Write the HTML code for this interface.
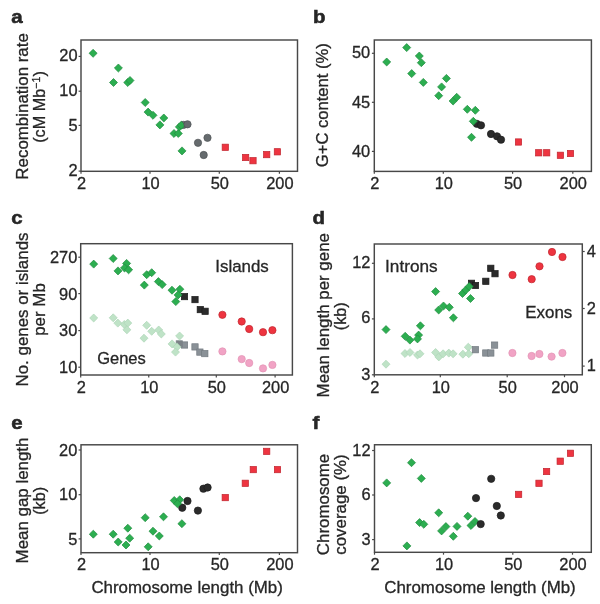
<!DOCTYPE html>
<html><head><meta charset="utf-8"><style>
html,body{margin:0;padding:0;background:#fff;width:600px;height:604px;overflow:hidden}
svg{display:block;will-change:transform}
text{font-family:"Liberation Sans",sans-serif;fill:#262626;stroke:#262626;stroke-width:0.3px}
</style></head><body>
<svg width="600" height="604" viewBox="0 0 600 604">
<rect x="81" y="40" width="216.50" height="131.30" fill="none" stroke="#484848" stroke-width="1.45"/>
<line x1="81.00" y1="171.3" x2="81.00" y2="173.70" stroke="#484848" stroke-width="1.2"/>
<text x="81.50" y="188.70" font-size="16.4" text-anchor="middle">2</text>
<line x1="150.00" y1="171.3" x2="150.00" y2="173.70" stroke="#484848" stroke-width="1.2"/>
<text x="150.50" y="188.70" font-size="16.4" text-anchor="middle">10</text>
<line x1="219.30" y1="171.3" x2="219.30" y2="173.70" stroke="#484848" stroke-width="1.2"/>
<text x="219.80" y="188.70" font-size="16.4" text-anchor="middle">50</text>
<line x1="279.40" y1="171.3" x2="279.40" y2="173.70" stroke="#484848" stroke-width="1.2"/>
<text x="279.90" y="188.70" font-size="16.4" text-anchor="middle">200</text>
<line x1="78.60" y1="56.40" x2="81" y2="56.40" stroke="#484848" stroke-width="1.2"/>
<text x="77.60" y="60.50" font-size="16.4" text-anchor="end">20</text>
<line x1="78.60" y1="91.20" x2="81" y2="91.20" stroke="#484848" stroke-width="1.2"/>
<text x="77.60" y="96.40" font-size="16.4" text-anchor="end">10</text>
<line x1="78.60" y1="125.40" x2="81" y2="125.40" stroke="#484848" stroke-width="1.2"/>
<text x="77.60" y="130.90" font-size="16.4" text-anchor="end">5</text>
<line x1="78.60" y1="171.10" x2="81" y2="171.10" stroke="#484848" stroke-width="1.2"/>
<text x="77.60" y="175.60" font-size="16.4" text-anchor="end">2</text>
<circle cx="183.30" cy="124.90" r="3.65" fill="#666b6e" stroke="#4d5154" stroke-width="0.7"/>
<path d="M93.10 49.29L97.11 53.30L93.10 57.31L89.09 53.30Z" fill="#2cae50" stroke="#1f8b3f" stroke-width="0.7"/>
<path d="M118.40 63.99L122.41 68.00L118.40 72.01L114.39 68.00Z" fill="#2cae50" stroke="#1f8b3f" stroke-width="0.7"/>
<path d="M113.50 78.49L117.51 82.50L113.50 86.51L109.49 82.50Z" fill="#2cae50" stroke="#1f8b3f" stroke-width="0.7"/>
<path d="M127.75 78.49L131.76 82.50L127.75 86.51L123.74 82.50Z" fill="#2cae50" stroke="#1f8b3f" stroke-width="0.7"/>
<path d="M130.00 76.49L134.01 80.50L130.00 84.51L125.99 80.50Z" fill="#2cae50" stroke="#1f8b3f" stroke-width="0.7"/>
<path d="M145.20 98.49L149.21 102.50L145.20 106.51L141.19 102.50Z" fill="#2cae50" stroke="#1f8b3f" stroke-width="0.7"/>
<path d="M148.10 108.09L152.11 112.10L148.10 116.11L144.09 112.10Z" fill="#2cae50" stroke="#1f8b3f" stroke-width="0.7"/>
<path d="M153.00 111.29L157.01 115.30L153.00 119.31L148.99 115.30Z" fill="#2cae50" stroke="#1f8b3f" stroke-width="0.7"/>
<path d="M163.80 113.99L167.81 118.00L163.80 122.01L159.79 118.00Z" fill="#2cae50" stroke="#1f8b3f" stroke-width="0.7"/>
<path d="M159.90 120.89L163.91 124.90L159.90 128.91L155.89 124.90Z" fill="#2cae50" stroke="#1f8b3f" stroke-width="0.7"/>
<path d="M174.00 129.49L178.01 133.50L174.00 137.51L169.99 133.50Z" fill="#2cae50" stroke="#1f8b3f" stroke-width="0.7"/>
<path d="M178.30 129.49L182.31 133.50L178.30 137.51L174.29 133.50Z" fill="#2cae50" stroke="#1f8b3f" stroke-width="0.7"/>
<path d="M179.40 122.89L183.41 126.90L179.40 130.91L175.39 126.90Z" fill="#2cae50" stroke="#1f8b3f" stroke-width="0.7"/>
<path d="M181.30 121.19L185.31 125.20L181.30 129.21L177.29 125.20Z" fill="#2cae50" stroke="#1f8b3f" stroke-width="0.7"/>
<path d="M182.00 146.89L186.01 150.90L182.00 154.91L177.99 150.90Z" fill="#2cae50" stroke="#1f8b3f" stroke-width="0.7"/>
<circle cx="187.50" cy="124.30" r="3.65" fill="#666b6e" stroke="#4d5154" stroke-width="0.7"/>
<circle cx="198.00" cy="142.80" r="3.65" fill="#666b6e" stroke="#4d5154" stroke-width="0.7"/>
<circle cx="207.50" cy="137.80" r="3.65" fill="#666b6e" stroke="#4d5154" stroke-width="0.7"/>
<circle cx="203.70" cy="155.00" r="3.65" fill="#666b6e" stroke="#4d5154" stroke-width="0.7"/>
<rect x="222.15" y="144.15" width="6.30" height="6.30" fill="#ee3440" stroke="#c0262f" stroke-width="0.7"/>
<rect x="242.45" y="154.35" width="6.30" height="6.30" fill="#ee3440" stroke="#c0262f" stroke-width="0.7"/>
<rect x="249.85" y="157.55" width="6.30" height="6.30" fill="#ee3440" stroke="#c0262f" stroke-width="0.7"/>
<rect x="263.55" y="151.45" width="6.30" height="6.30" fill="#ee3440" stroke="#c0262f" stroke-width="0.7"/>
<rect x="274.25" y="148.65" width="6.30" height="6.30" fill="#ee3440" stroke="#c0262f" stroke-width="0.7"/>
<text transform="translate(27.60 106.40) rotate(-90)" font-size="16.9" text-anchor="middle">Recombination rate</text>
<text transform="translate(44.9 142.8) rotate(-90)" font-size="16.9" text-anchor="start" textLength="71.6" lengthAdjust="spacingAndGlyphs">(cM Mb<tspan font-size="11" dy="-5.2">−1</tspan><tspan dy="5.2">)</tspan></text>
<rect x="374.3" y="40" width="217.10" height="131.40" fill="none" stroke="#484848" stroke-width="1.45"/>
<line x1="374.30" y1="171.4" x2="374.30" y2="173.80" stroke="#484848" stroke-width="1.2"/>
<text x="374.80" y="188.70" font-size="16.4" text-anchor="middle">2</text>
<line x1="443.30" y1="171.4" x2="443.30" y2="173.80" stroke="#484848" stroke-width="1.2"/>
<text x="443.80" y="188.70" font-size="16.4" text-anchor="middle">10</text>
<line x1="512.60" y1="171.4" x2="512.60" y2="173.80" stroke="#484848" stroke-width="1.2"/>
<text x="513.10" y="188.70" font-size="16.4" text-anchor="middle">50</text>
<line x1="572.80" y1="171.4" x2="572.80" y2="173.80" stroke="#484848" stroke-width="1.2"/>
<text x="573.30" y="188.70" font-size="16.4" text-anchor="middle">200</text>
<line x1="371.90" y1="53.30" x2="374.3" y2="53.30" stroke="#484848" stroke-width="1.2"/>
<text x="370.20" y="58.40" font-size="16.4" text-anchor="end">50</text>
<line x1="371.90" y1="102.30" x2="374.3" y2="102.30" stroke="#484848" stroke-width="1.2"/>
<text x="370.20" y="107.80" font-size="16.4" text-anchor="end">45</text>
<line x1="371.90" y1="151.40" x2="374.3" y2="151.40" stroke="#484848" stroke-width="1.2"/>
<text x="370.20" y="157.00" font-size="16.4" text-anchor="end">40</text>
<path d="M386.70 57.99L390.71 62.00L386.70 66.01L382.69 62.00Z" fill="#2cae50" stroke="#1f8b3f" stroke-width="0.7"/>
<path d="M406.70 43.59L410.71 47.60L406.70 51.61L402.69 47.60Z" fill="#2cae50" stroke="#1f8b3f" stroke-width="0.7"/>
<path d="M419.30 51.99L423.31 56.00L419.30 60.01L415.29 56.00Z" fill="#2cae50" stroke="#1f8b3f" stroke-width="0.7"/>
<path d="M421.30 58.69L425.31 62.70L421.30 66.71L417.29 62.70Z" fill="#2cae50" stroke="#1f8b3f" stroke-width="0.7"/>
<path d="M411.70 69.59L415.71 73.60L411.70 77.61L407.69 73.60Z" fill="#2cae50" stroke="#1f8b3f" stroke-width="0.7"/>
<path d="M423.30 78.39L427.31 82.40L423.30 86.41L419.29 82.40Z" fill="#2cae50" stroke="#1f8b3f" stroke-width="0.7"/>
<path d="M446.40 74.39L450.41 78.40L446.40 82.41L442.39 78.40Z" fill="#2cae50" stroke="#1f8b3f" stroke-width="0.7"/>
<path d="M441.60 82.89L445.61 86.90L441.60 90.91L437.59 86.90Z" fill="#2cae50" stroke="#1f8b3f" stroke-width="0.7"/>
<path d="M438.70 91.69L442.71 95.70L438.70 99.71L434.69 95.70Z" fill="#2cae50" stroke="#1f8b3f" stroke-width="0.7"/>
<path d="M453.10 96.99L457.11 101.00L453.10 105.01L449.09 101.00Z" fill="#2cae50" stroke="#1f8b3f" stroke-width="0.7"/>
<path d="M456.70 93.29L460.71 97.30L456.70 101.31L452.69 97.30Z" fill="#2cae50" stroke="#1f8b3f" stroke-width="0.7"/>
<path d="M467.30 105.29L471.31 109.30L467.30 113.31L463.29 109.30Z" fill="#2cae50" stroke="#1f8b3f" stroke-width="0.7"/>
<path d="M475.30 106.29L479.31 110.30L475.30 114.31L471.29 110.30Z" fill="#2cae50" stroke="#1f8b3f" stroke-width="0.7"/>
<path d="M471.50 133.29L475.51 137.30L471.50 141.31L467.49 137.30Z" fill="#2cae50" stroke="#1f8b3f" stroke-width="0.7"/>
<circle cx="476.80" cy="123.80" r="3.65" fill="#2b2b2b" stroke="#1c1c1c" stroke-width="0.7"/>
<circle cx="481.00" cy="125.30" r="3.65" fill="#2b2b2b" stroke="#1c1c1c" stroke-width="0.7"/>
<circle cx="491.00" cy="134.00" r="3.65" fill="#2b2b2b" stroke="#1c1c1c" stroke-width="0.7"/>
<circle cx="497.00" cy="136.30" r="3.65" fill="#2b2b2b" stroke="#1c1c1c" stroke-width="0.7"/>
<circle cx="501.00" cy="139.70" r="3.65" fill="#2b2b2b" stroke="#1c1c1c" stroke-width="0.7"/>
<path d="M473.30 117.29L477.31 121.30L473.30 125.31L469.29 121.30Z" fill="#2cae50" stroke="#1f8b3f" stroke-width="0.7"/>
<rect x="515.35" y="138.85" width="6.30" height="6.30" fill="#ee3440" stroke="#c0262f" stroke-width="0.7"/>
<rect x="535.55" y="149.65" width="6.30" height="6.30" fill="#ee3440" stroke="#c0262f" stroke-width="0.7"/>
<rect x="543.55" y="149.65" width="6.30" height="6.30" fill="#ee3440" stroke="#c0262f" stroke-width="0.7"/>
<rect x="557.25" y="152.15" width="6.30" height="6.30" fill="#ee3440" stroke="#c0262f" stroke-width="0.7"/>
<rect x="567.35" y="150.35" width="6.30" height="6.30" fill="#ee3440" stroke="#c0262f" stroke-width="0.7"/>
<text transform="translate(328.30 105.20) rotate(-90)" font-size="16.6" text-anchor="middle">G+C content (%)</text>
<rect x="80.7" y="243.7" width="211.70" height="131.30" fill="none" stroke="#484848" stroke-width="1.45"/>
<line x1="80.70" y1="375" x2="80.70" y2="377.40" stroke="#484848" stroke-width="1.2"/>
<text x="81.20" y="392.70" font-size="16.4" text-anchor="middle">2</text>
<line x1="148.75" y1="375" x2="148.75" y2="377.40" stroke="#484848" stroke-width="1.2"/>
<text x="149.25" y="392.70" font-size="16.4" text-anchor="middle">10</text>
<line x1="216.30" y1="375" x2="216.30" y2="377.40" stroke="#484848" stroke-width="1.2"/>
<text x="216.80" y="392.70" font-size="16.4" text-anchor="middle">50</text>
<line x1="275.10" y1="375" x2="275.10" y2="377.40" stroke="#484848" stroke-width="1.2"/>
<text x="275.60" y="392.70" font-size="16.4" text-anchor="middle">200</text>
<line x1="78.30" y1="257.20" x2="80.7" y2="257.20" stroke="#484848" stroke-width="1.2"/>
<text x="77.30" y="262.90" font-size="16.4" text-anchor="end">270</text>
<line x1="78.30" y1="293.60" x2="80.7" y2="293.60" stroke="#484848" stroke-width="1.2"/>
<text x="77.30" y="300.10" font-size="16.4" text-anchor="end">90</text>
<line x1="78.30" y1="330.60" x2="80.7" y2="330.60" stroke="#484848" stroke-width="1.2"/>
<text x="77.30" y="336.40" font-size="16.4" text-anchor="end">30</text>
<line x1="78.30" y1="367.20" x2="80.7" y2="367.20" stroke="#484848" stroke-width="1.2"/>
<text x="77.30" y="373.00" font-size="16.4" text-anchor="end">10</text>
<rect x="181.35" y="341.85" width="6.30" height="6.30" fill="#8a9197" stroke="#737a80" stroke-width="0.7"/>
<rect x="191.85" y="343.75" width="6.30" height="6.30" fill="#8a9197" stroke="#737a80" stroke-width="0.7"/>
<rect x="196.75" y="348.95" width="6.30" height="6.30" fill="#8a9197" stroke="#737a80" stroke-width="0.7"/>
<rect x="201.65" y="350.45" width="6.30" height="6.30" fill="#8a9197" stroke="#737a80" stroke-width="0.7"/>
<rect x="176.15" y="340.75" width="6.30" height="6.30" fill="#7a8186" stroke="#7a8186" stroke-width="0.7"/>
<path d="M93.70 313.99L97.71 318.00L93.70 322.01L89.69 318.00Z" fill="#bfe3c7" stroke="#aed6b8" stroke-width="0.7"/>
<path d="M113.20 313.79L117.21 317.80L113.20 321.81L109.19 317.80Z" fill="#bfe3c7" stroke="#aed6b8" stroke-width="0.7"/>
<path d="M117.80 319.09L121.81 323.10L117.80 327.11L113.79 323.10Z" fill="#bfe3c7" stroke="#aed6b8" stroke-width="0.7"/>
<path d="M124.30 320.49L128.31 324.50L124.30 328.51L120.29 324.50Z" fill="#bfe3c7" stroke="#aed6b8" stroke-width="0.7"/>
<path d="M127.80 319.09L131.81 323.10L127.80 327.11L123.79 323.10Z" fill="#bfe3c7" stroke="#aed6b8" stroke-width="0.7"/>
<path d="M126.90 325.79L130.91 329.80L126.90 333.81L122.89 329.80Z" fill="#bfe3c7" stroke="#aed6b8" stroke-width="0.7"/>
<path d="M146.70 321.29L150.71 325.30L146.70 329.31L142.69 325.30Z" fill="#bfe3c7" stroke="#aed6b8" stroke-width="0.7"/>
<path d="M151.70 327.29L155.71 331.30L151.70 335.31L147.69 331.30Z" fill="#bfe3c7" stroke="#aed6b8" stroke-width="0.7"/>
<path d="M158.70 325.99L162.71 330.00L158.70 334.01L154.69 330.00Z" fill="#bfe3c7" stroke="#aed6b8" stroke-width="0.7"/>
<path d="M161.30 329.99L165.31 334.00L161.30 338.01L157.29 334.00Z" fill="#bfe3c7" stroke="#aed6b8" stroke-width="0.7"/>
<path d="M144.00 334.19L148.01 338.20L144.00 342.21L139.99 338.20Z" fill="#bfe3c7" stroke="#aed6b8" stroke-width="0.7"/>
<path d="M179.60 331.99L183.61 336.00L179.60 340.01L175.59 336.00Z" fill="#bfe3c7" stroke="#aed6b8" stroke-width="0.7"/>
<path d="M172.10 339.89L176.11 343.90L172.10 347.91L168.09 343.90Z" fill="#bfe3c7" stroke="#aed6b8" stroke-width="0.7"/>
<path d="M177.00 342.89L181.01 346.90L177.00 350.91L172.99 346.90Z" fill="#bfe3c7" stroke="#aed6b8" stroke-width="0.7"/>
<path d="M175.50 348.09L179.51 352.10L175.50 356.11L171.49 352.10Z" fill="#bfe3c7" stroke="#aed6b8" stroke-width="0.7"/>
<circle cx="222.40" cy="351.40" r="3.65" fill="#f1a3c5" stroke="#e393b5" stroke-width="0.7"/>
<circle cx="241.70" cy="359.10" r="3.65" fill="#f1a3c5" stroke="#e393b5" stroke-width="0.7"/>
<circle cx="249.20" cy="363.00" r="3.65" fill="#f1a3c5" stroke="#e393b5" stroke-width="0.7"/>
<circle cx="263.00" cy="368.40" r="3.65" fill="#f1a3c5" stroke="#e393b5" stroke-width="0.7"/>
<circle cx="272.40" cy="364.90" r="3.65" fill="#f1a3c5" stroke="#e393b5" stroke-width="0.7"/>
<rect x="181.35" y="293.45" width="6.30" height="6.30" fill="#2b2b2b" stroke="#1c1c1c" stroke-width="0.7"/>
<rect x="191.85" y="296.45" width="6.30" height="6.30" fill="#2b2b2b" stroke="#1c1c1c" stroke-width="0.7"/>
<rect x="197.15" y="306.45" width="6.30" height="6.30" fill="#2b2b2b" stroke="#1c1c1c" stroke-width="0.7"/>
<rect x="201.95" y="308.15" width="6.30" height="6.30" fill="#2b2b2b" stroke="#1c1c1c" stroke-width="0.7"/>
<path d="M93.70 260.09L97.71 264.10L93.70 268.11L89.69 264.10Z" fill="#2cae50" stroke="#1f8b3f" stroke-width="0.7"/>
<path d="M113.20 254.49L117.21 258.50L113.20 262.51L109.19 258.50Z" fill="#2cae50" stroke="#1f8b3f" stroke-width="0.7"/>
<path d="M118.00 266.89L122.01 270.90L118.00 274.91L113.99 270.90Z" fill="#2cae50" stroke="#1f8b3f" stroke-width="0.7"/>
<path d="M126.60 259.39L130.61 263.40L126.60 267.41L122.59 263.40Z" fill="#2cae50" stroke="#1f8b3f" stroke-width="0.7"/>
<path d="M124.50 263.99L128.51 268.00L124.50 272.01L120.49 268.00Z" fill="#2cae50" stroke="#1f8b3f" stroke-width="0.7"/>
<path d="M128.60 265.79L132.61 269.80L128.60 273.81L124.59 269.80Z" fill="#2cae50" stroke="#1f8b3f" stroke-width="0.7"/>
<path d="M146.70 270.69L150.71 274.70L146.70 278.71L142.69 274.70Z" fill="#2cae50" stroke="#1f8b3f" stroke-width="0.7"/>
<path d="M151.70 268.69L155.71 272.70L151.70 276.71L147.69 272.70Z" fill="#2cae50" stroke="#1f8b3f" stroke-width="0.7"/>
<path d="M144.30 281.09L148.31 285.10L144.30 289.11L140.29 285.10Z" fill="#2cae50" stroke="#1f8b3f" stroke-width="0.7"/>
<path d="M158.40 277.59L162.41 281.60L158.40 285.61L154.39 281.60Z" fill="#2cae50" stroke="#1f8b3f" stroke-width="0.7"/>
<path d="M162.20 280.59L166.21 284.60L162.20 288.61L158.19 284.60Z" fill="#2cae50" stroke="#1f8b3f" stroke-width="0.7"/>
<path d="M172.00 286.19L176.01 290.20L172.00 294.21L167.99 290.20Z" fill="#2cae50" stroke="#1f8b3f" stroke-width="0.7"/>
<path d="M179.90 285.29L183.91 289.30L179.90 293.31L175.89 289.30Z" fill="#2cae50" stroke="#1f8b3f" stroke-width="0.7"/>
<path d="M178.10 290.89L182.11 294.90L178.10 298.91L174.09 294.90Z" fill="#2cae50" stroke="#1f8b3f" stroke-width="0.7"/>
<path d="M175.80 297.59L179.81 301.60L175.80 305.61L171.79 301.60Z" fill="#2cae50" stroke="#1f8b3f" stroke-width="0.7"/>
<circle cx="222.40" cy="314.80" r="3.65" fill="#ee3440" stroke="#c0262f" stroke-width="0.7"/>
<circle cx="241.70" cy="321.50" r="3.65" fill="#ee3440" stroke="#c0262f" stroke-width="0.7"/>
<circle cx="249.20" cy="329.00" r="3.65" fill="#ee3440" stroke="#c0262f" stroke-width="0.7"/>
<circle cx="263.00" cy="332.20" r="3.65" fill="#ee3440" stroke="#c0262f" stroke-width="0.7"/>
<circle cx="272.40" cy="330.20" r="3.65" fill="#ee3440" stroke="#c0262f" stroke-width="0.7"/>
<text x="215.30" y="271.60" font-size="16.9" text-anchor="start">Islands</text>
<text x="97.20" y="363.90" font-size="16.5" text-anchor="start">Genes</text>
<text transform="translate(27.60 309.50) rotate(-90)" font-size="16.9" text-anchor="middle">No. genes or islands</text>
<text transform="translate(44.90 309.50) rotate(-90)" font-size="16.9" text-anchor="middle">per Mb</text>
<rect x="374.3" y="244" width="208.00" height="130.80" fill="none" stroke="#484848" stroke-width="1.45"/>
<line x1="374.30" y1="374.8" x2="374.30" y2="377.20" stroke="#484848" stroke-width="1.2"/>
<text x="374.80" y="392.80" font-size="16.4" text-anchor="middle">2</text>
<line x1="440.30" y1="374.8" x2="440.30" y2="377.20" stroke="#484848" stroke-width="1.2"/>
<text x="440.80" y="392.80" font-size="16.4" text-anchor="middle">10</text>
<line x1="507.20" y1="374.8" x2="507.20" y2="377.20" stroke="#484848" stroke-width="1.2"/>
<text x="507.70" y="392.80" font-size="16.4" text-anchor="middle">50</text>
<line x1="564.50" y1="374.8" x2="564.50" y2="377.20" stroke="#484848" stroke-width="1.2"/>
<text x="565.00" y="392.80" font-size="16.4" text-anchor="middle">200</text>
<line x1="371.90" y1="263.30" x2="374.3" y2="263.30" stroke="#484848" stroke-width="1.2"/>
<text x="370.40" y="268.00" font-size="16.4" text-anchor="end">12</text>
<line x1="371.90" y1="318.90" x2="374.3" y2="318.90" stroke="#484848" stroke-width="1.2"/>
<text x="370.40" y="323.40" font-size="16.4" text-anchor="end">6</text>
<line x1="371.90" y1="374.80" x2="374.3" y2="374.80" stroke="#484848" stroke-width="1.2"/>
<text x="370.40" y="380.20" font-size="16.4" text-anchor="end">3</text>
<line x1="582.3" y1="251.50" x2="584.70" y2="251.50" stroke="#484848" stroke-width="1.2"/>
<text x="586.80" y="256.80" font-size="16.4" text-anchor="start">4</text>
<line x1="582.3" y1="308.50" x2="584.70" y2="308.50" stroke="#484848" stroke-width="1.2"/>
<text x="586.80" y="313.50" font-size="16.4" text-anchor="start">2</text>
<line x1="582.3" y1="366.10" x2="584.70" y2="366.10" stroke="#484848" stroke-width="1.2"/>
<text x="586.80" y="370.80" font-size="16.4" text-anchor="start">1</text>
<path d="M386.00 360.19L390.01 364.20L386.00 368.21L381.99 364.20Z" fill="#bfe3c7" stroke="#aed6b8" stroke-width="0.7"/>
<path d="M405.00 349.49L409.01 353.50L405.00 357.51L400.99 353.50Z" fill="#bfe3c7" stroke="#aed6b8" stroke-width="0.7"/>
<path d="M410.00 348.49L414.01 352.50L410.00 356.51L405.99 352.50Z" fill="#bfe3c7" stroke="#aed6b8" stroke-width="0.7"/>
<path d="M417.50 350.99L421.51 355.00L417.50 359.01L413.49 355.00Z" fill="#bfe3c7" stroke="#aed6b8" stroke-width="0.7"/>
<path d="M420.00 349.79L424.01 353.80L420.00 357.81L415.99 353.80Z" fill="#bfe3c7" stroke="#aed6b8" stroke-width="0.7"/>
<path d="M435.60 348.49L439.61 352.50L435.60 356.51L431.59 352.50Z" fill="#bfe3c7" stroke="#aed6b8" stroke-width="0.7"/>
<path d="M438.80 352.89L442.81 356.90L438.80 360.91L434.79 356.90Z" fill="#bfe3c7" stroke="#aed6b8" stroke-width="0.7"/>
<path d="M443.10 349.79L447.11 353.80L443.10 357.81L439.09 353.80Z" fill="#bfe3c7" stroke="#aed6b8" stroke-width="0.7"/>
<path d="M448.80 349.09L452.81 353.10L448.80 357.11L444.79 353.10Z" fill="#bfe3c7" stroke="#aed6b8" stroke-width="0.7"/>
<path d="M453.10 349.79L457.11 353.80L453.10 357.81L449.09 353.80Z" fill="#bfe3c7" stroke="#aed6b8" stroke-width="0.7"/>
<path d="M462.90 350.19L466.91 354.20L462.90 358.21L458.89 354.20Z" fill="#bfe3c7" stroke="#aed6b8" stroke-width="0.7"/>
<path d="M468.30 343.19L472.31 347.20L468.30 351.21L464.29 347.20Z" fill="#bfe3c7" stroke="#aed6b8" stroke-width="0.7"/>
<path d="M468.75 349.79L472.76 353.80L468.75 357.81L464.74 353.80Z" fill="#bfe3c7" stroke="#aed6b8" stroke-width="0.7"/>
<rect x="472.25" y="346.55" width="6.30" height="6.30" fill="#8a9197" stroke="#737a80" stroke-width="0.7"/>
<rect x="482.65" y="349.85" width="6.30" height="6.30" fill="#8a9197" stroke="#737a80" stroke-width="0.7"/>
<rect x="487.65" y="349.85" width="6.30" height="6.30" fill="#8a9197" stroke="#737a80" stroke-width="0.7"/>
<rect x="491.45" y="341.95" width="6.30" height="6.30" fill="#8a9197" stroke="#737a80" stroke-width="0.7"/>
<circle cx="512.40" cy="353.00" r="3.65" fill="#f1a3c5" stroke="#e393b5" stroke-width="0.7"/>
<circle cx="531.60" cy="356.00" r="3.65" fill="#f1a3c5" stroke="#e393b5" stroke-width="0.7"/>
<circle cx="539.40" cy="354.00" r="3.65" fill="#f1a3c5" stroke="#e393b5" stroke-width="0.7"/>
<circle cx="551.60" cy="356.60" r="3.65" fill="#f1a3c5" stroke="#e393b5" stroke-width="0.7"/>
<circle cx="562.40" cy="353.00" r="3.65" fill="#f1a3c5" stroke="#e393b5" stroke-width="0.7"/>
<rect x="468.35" y="280.15" width="6.30" height="6.30" fill="#2b2b2b" stroke="#1c1c1c" stroke-width="0.7"/>
<rect x="472.35" y="282.35" width="6.30" height="6.30" fill="#2b2b2b" stroke="#1c1c1c" stroke-width="0.7"/>
<rect x="482.65" y="278.15" width="6.30" height="6.30" fill="#2b2b2b" stroke="#1c1c1c" stroke-width="0.7"/>
<rect x="487.65" y="265.15" width="6.30" height="6.30" fill="#2b2b2b" stroke="#1c1c1c" stroke-width="0.7"/>
<rect x="491.85" y="270.55" width="6.30" height="6.30" fill="#2b2b2b" stroke="#1c1c1c" stroke-width="0.7"/>
<path d="M386.00 325.59L390.01 329.60L386.00 333.61L381.99 329.60Z" fill="#2cae50" stroke="#1f8b3f" stroke-width="0.7"/>
<path d="M420.40 321.79L424.41 325.80L420.40 329.81L416.39 325.80Z" fill="#2cae50" stroke="#1f8b3f" stroke-width="0.7"/>
<path d="M405.20 332.29L409.21 336.30L405.20 340.31L401.19 336.30Z" fill="#2cae50" stroke="#1f8b3f" stroke-width="0.7"/>
<path d="M409.90 336.09L413.91 340.10L409.90 344.11L405.89 340.10Z" fill="#2cae50" stroke="#1f8b3f" stroke-width="0.7"/>
<path d="M418.60 331.09L422.61 335.10L418.60 339.11L414.59 335.10Z" fill="#2cae50" stroke="#1f8b3f" stroke-width="0.7"/>
<path d="M417.50 334.89L421.51 338.90L417.50 342.91L413.49 338.90Z" fill="#2cae50" stroke="#1f8b3f" stroke-width="0.7"/>
<path d="M435.60 287.59L439.61 291.60L435.60 295.61L431.59 291.60Z" fill="#2cae50" stroke="#1f8b3f" stroke-width="0.7"/>
<path d="M438.70 305.99L442.71 310.00L438.70 314.01L434.69 310.00Z" fill="#2cae50" stroke="#1f8b3f" stroke-width="0.7"/>
<path d="M443.50 301.99L447.51 306.00L443.50 310.01L439.49 306.00Z" fill="#2cae50" stroke="#1f8b3f" stroke-width="0.7"/>
<path d="M449.30 303.29L453.31 307.30L449.30 311.31L445.29 307.30Z" fill="#2cae50" stroke="#1f8b3f" stroke-width="0.7"/>
<path d="M453.40 313.79L457.41 317.80L453.40 321.81L449.39 317.80Z" fill="#2cae50" stroke="#1f8b3f" stroke-width="0.7"/>
<path d="M462.50 289.49L466.51 293.50L462.50 297.51L458.49 293.50Z" fill="#2cae50" stroke="#1f8b3f" stroke-width="0.7"/>
<path d="M465.80 285.99L469.81 290.00L465.80 294.01L461.79 290.00Z" fill="#2cae50" stroke="#1f8b3f" stroke-width="0.7"/>
<path d="M469.20 282.49L473.21 286.50L469.20 290.51L465.19 286.50Z" fill="#2cae50" stroke="#1f8b3f" stroke-width="0.7"/>
<path d="M470.50 294.49L474.51 298.50L470.50 302.51L466.49 298.50Z" fill="#2cae50" stroke="#1f8b3f" stroke-width="0.7"/>
<circle cx="512.50" cy="275.00" r="3.65" fill="#ee3440" stroke="#c0262f" stroke-width="0.7"/>
<circle cx="531.70" cy="279.20" r="3.65" fill="#ee3440" stroke="#c0262f" stroke-width="0.7"/>
<circle cx="539.50" cy="266.30" r="3.65" fill="#ee3440" stroke="#c0262f" stroke-width="0.7"/>
<circle cx="552.00" cy="252.00" r="3.65" fill="#ee3440" stroke="#c0262f" stroke-width="0.7"/>
<circle cx="562.50" cy="257.00" r="3.65" fill="#ee3440" stroke="#c0262f" stroke-width="0.7"/>
<text x="385.10" y="271.60" font-size="17.2" text-anchor="start">Introns</text>
<text x="525.30" y="318.10" font-size="16.9" text-anchor="start">Exons</text>
<text transform="translate(328.60 315.25) rotate(-90)" font-size="16.9" text-anchor="middle">Mean length per gene</text>
<text transform="translate(345.50 316.30) rotate(-90)" font-size="16.2" text-anchor="middle">(kb)</text>
<rect x="81" y="444.8" width="216.50" height="107.90" fill="none" stroke="#484848" stroke-width="1.45"/>
<line x1="81.00" y1="552.7" x2="81.00" y2="555.10" stroke="#484848" stroke-width="1.2"/>
<text x="81.50" y="570.00" font-size="16.4" text-anchor="middle">2</text>
<line x1="150.00" y1="552.7" x2="150.00" y2="555.10" stroke="#484848" stroke-width="1.2"/>
<text x="150.50" y="570.00" font-size="16.4" text-anchor="middle">10</text>
<line x1="219.30" y1="552.7" x2="219.30" y2="555.10" stroke="#484848" stroke-width="1.2"/>
<text x="219.80" y="570.00" font-size="16.4" text-anchor="middle">50</text>
<line x1="279.40" y1="552.7" x2="279.40" y2="555.10" stroke="#484848" stroke-width="1.2"/>
<text x="279.90" y="570.00" font-size="16.4" text-anchor="middle">200</text>
<line x1="78.60" y1="450.00" x2="81" y2="450.00" stroke="#484848" stroke-width="1.2"/>
<text x="77.30" y="455.50" font-size="16.4" text-anchor="end">20</text>
<line x1="78.60" y1="494.70" x2="81" y2="494.70" stroke="#484848" stroke-width="1.2"/>
<text x="77.30" y="499.70" font-size="16.4" text-anchor="end">10</text>
<line x1="78.60" y1="538.90" x2="81" y2="538.90" stroke="#484848" stroke-width="1.2"/>
<text x="77.30" y="544.50" font-size="16.4" text-anchor="end">5</text>
<path d="M93.30 530.19L97.31 534.20L93.30 538.21L89.29 534.20Z" fill="#2cae50" stroke="#1f8b3f" stroke-width="0.7"/>
<path d="M113.20 530.19L117.21 534.20L113.20 538.21L109.19 534.20Z" fill="#2cae50" stroke="#1f8b3f" stroke-width="0.7"/>
<path d="M118.20 537.99L122.21 542.00L118.20 546.01L114.19 542.00Z" fill="#2cae50" stroke="#1f8b3f" stroke-width="0.7"/>
<path d="M127.80 524.19L131.81 528.20L127.80 532.21L123.79 528.20Z" fill="#2cae50" stroke="#1f8b3f" stroke-width="0.7"/>
<path d="M129.70 534.19L133.71 538.20L129.70 542.21L125.69 538.20Z" fill="#2cae50" stroke="#1f8b3f" stroke-width="0.7"/>
<path d="M126.00 540.99L130.01 545.00L126.00 549.01L121.99 545.00Z" fill="#2cae50" stroke="#1f8b3f" stroke-width="0.7"/>
<path d="M145.20 513.69L149.21 517.70L145.20 521.71L141.19 517.70Z" fill="#2cae50" stroke="#1f8b3f" stroke-width="0.7"/>
<path d="M153.00 527.19L157.01 531.20L153.00 535.21L148.99 531.20Z" fill="#2cae50" stroke="#1f8b3f" stroke-width="0.7"/>
<path d="M159.30 531.99L163.31 536.00L159.30 540.01L155.29 536.00Z" fill="#2cae50" stroke="#1f8b3f" stroke-width="0.7"/>
<path d="M148.20 542.79L152.21 546.80L148.20 550.81L144.19 546.80Z" fill="#2cae50" stroke="#1f8b3f" stroke-width="0.7"/>
<path d="M163.50 512.79L167.51 516.80L163.50 520.81L159.49 516.80Z" fill="#2cae50" stroke="#1f8b3f" stroke-width="0.7"/>
<path d="M181.90 519.69L185.91 523.70L181.90 527.71L177.89 523.70Z" fill="#2cae50" stroke="#1f8b3f" stroke-width="0.7"/>
<circle cx="187.50" cy="501.00" r="3.65" fill="#2b2b2b" stroke="#1c1c1c" stroke-width="0.7"/>
<circle cx="182.25" cy="507.75" r="3.65" fill="#2b2b2b" stroke="#1c1c1c" stroke-width="0.7"/>
<circle cx="197.90" cy="510.60" r="3.65" fill="#2b2b2b" stroke="#1c1c1c" stroke-width="0.7"/>
<circle cx="203.40" cy="488.70" r="3.65" fill="#2b2b2b" stroke="#1c1c1c" stroke-width="0.7"/>
<circle cx="207.60" cy="487.50" r="3.65" fill="#2b2b2b" stroke="#1c1c1c" stroke-width="0.7"/>
<path d="M174.25 496.49L178.26 500.50L174.25 504.51L170.24 500.50Z" fill="#2cae50" stroke="#1f8b3f" stroke-width="0.7"/>
<path d="M179.75 495.74L183.76 499.75L179.75 503.76L175.74 499.75Z" fill="#2cae50" stroke="#1f8b3f" stroke-width="0.7"/>
<path d="M177.50 499.74L181.51 503.75L177.50 507.76L173.49 503.75Z" fill="#2cae50" stroke="#1f8b3f" stroke-width="0.7"/>
<rect x="222.10" y="494.45" width="6.30" height="6.30" fill="#ee3440" stroke="#c0262f" stroke-width="0.7"/>
<rect x="242.15" y="480.15" width="6.30" height="6.30" fill="#ee3440" stroke="#c0262f" stroke-width="0.7"/>
<rect x="250.15" y="466.45" width="6.30" height="6.30" fill="#ee3440" stroke="#c0262f" stroke-width="0.7"/>
<rect x="263.55" y="448.25" width="6.30" height="6.30" fill="#ee3440" stroke="#c0262f" stroke-width="0.7"/>
<rect x="274.35" y="466.45" width="6.30" height="6.30" fill="#ee3440" stroke="#c0262f" stroke-width="0.7"/>
<text transform="translate(27.60 500.50) rotate(-90)" font-size="16.9" text-anchor="middle">Mean gap length</text>
<text transform="translate(44.90 500.90) rotate(-90)" font-size="16.2" text-anchor="middle">(kb)</text>
<text x="187.15" y="592.80" font-size="16.9" text-anchor="middle">Chromosome length (Mb)</text>
<rect x="374.5" y="444.75" width="216.80" height="107.55" fill="none" stroke="#484848" stroke-width="1.45"/>
<line x1="374.50" y1="552.3" x2="374.50" y2="554.70" stroke="#484848" stroke-width="1.2"/>
<text x="375.00" y="570.00" font-size="16.4" text-anchor="middle">2</text>
<line x1="443.50" y1="552.3" x2="443.50" y2="554.70" stroke="#484848" stroke-width="1.2"/>
<text x="444.00" y="570.00" font-size="16.4" text-anchor="middle">10</text>
<line x1="512.80" y1="552.3" x2="512.80" y2="554.70" stroke="#484848" stroke-width="1.2"/>
<text x="513.30" y="570.00" font-size="16.4" text-anchor="middle">50</text>
<line x1="572.50" y1="552.3" x2="572.50" y2="554.70" stroke="#484848" stroke-width="1.2"/>
<text x="573.00" y="570.00" font-size="16.4" text-anchor="middle">200</text>
<line x1="372.10" y1="450.50" x2="374.5" y2="450.50" stroke="#484848" stroke-width="1.2"/>
<text x="370.60" y="455.60" font-size="16.4" text-anchor="end">12</text>
<line x1="372.10" y1="495.00" x2="374.5" y2="495.00" stroke="#484848" stroke-width="1.2"/>
<text x="370.60" y="500.10" font-size="16.4" text-anchor="end">6</text>
<line x1="372.10" y1="539.60" x2="374.5" y2="539.60" stroke="#484848" stroke-width="1.2"/>
<text x="370.60" y="544.80" font-size="16.4" text-anchor="end">3</text>
<path d="M386.70 478.89L390.71 482.90L386.70 486.91L382.69 482.90Z" fill="#2cae50" stroke="#1f8b3f" stroke-width="0.7"/>
<path d="M411.50 458.69L415.51 462.70L411.50 466.71L407.49 462.70Z" fill="#2cae50" stroke="#1f8b3f" stroke-width="0.7"/>
<path d="M421.30 474.39L425.31 478.40L421.30 482.41L417.29 478.40Z" fill="#2cae50" stroke="#1f8b3f" stroke-width="0.7"/>
<path d="M406.90 541.89L410.91 545.90L406.90 549.91L402.89 545.90Z" fill="#2cae50" stroke="#1f8b3f" stroke-width="0.7"/>
<path d="M419.60 518.59L423.61 522.60L419.60 526.61L415.59 522.60Z" fill="#2cae50" stroke="#1f8b3f" stroke-width="0.7"/>
<path d="M423.80 520.29L427.81 524.30L423.80 528.31L419.79 524.30Z" fill="#2cae50" stroke="#1f8b3f" stroke-width="0.7"/>
<path d="M438.70 508.79L442.71 512.80L438.70 516.81L434.69 512.80Z" fill="#2cae50" stroke="#1f8b3f" stroke-width="0.7"/>
<path d="M441.60 526.89L445.61 530.90L441.60 534.91L437.59 530.90Z" fill="#2cae50" stroke="#1f8b3f" stroke-width="0.7"/>
<path d="M445.90 522.59L449.91 526.60L445.90 530.61L441.89 526.60Z" fill="#2cae50" stroke="#1f8b3f" stroke-width="0.7"/>
<path d="M453.30 532.29L457.31 536.30L453.30 540.31L449.29 536.30Z" fill="#2cae50" stroke="#1f8b3f" stroke-width="0.7"/>
<path d="M457.00 522.39L461.01 526.40L457.00 530.41L452.99 526.40Z" fill="#2cae50" stroke="#1f8b3f" stroke-width="0.7"/>
<path d="M467.80 512.19L471.81 516.20L467.80 520.21L463.79 516.20Z" fill="#2cae50" stroke="#1f8b3f" stroke-width="0.7"/>
<path d="M471.00 521.49L475.01 525.50L471.00 529.51L466.99 525.50Z" fill="#2cae50" stroke="#1f8b3f" stroke-width="0.7"/>
<path d="M475.00 517.49L479.01 521.50L475.00 525.51L470.99 521.50Z" fill="#2cae50" stroke="#1f8b3f" stroke-width="0.7"/>
<circle cx="491.20" cy="478.80" r="3.65" fill="#2b2b2b" stroke="#1c1c1c" stroke-width="0.7"/>
<circle cx="476.00" cy="498.10" r="3.65" fill="#2b2b2b" stroke="#1c1c1c" stroke-width="0.7"/>
<circle cx="496.80" cy="506.00" r="3.65" fill="#2b2b2b" stroke="#1c1c1c" stroke-width="0.7"/>
<circle cx="500.80" cy="515.50" r="3.65" fill="#2b2b2b" stroke="#1c1c1c" stroke-width="0.7"/>
<circle cx="480.70" cy="524.10" r="3.65" fill="#2b2b2b" stroke="#1c1c1c" stroke-width="0.7"/>
<rect x="515.45" y="491.25" width="6.30" height="6.30" fill="#ee3440" stroke="#c0262f" stroke-width="0.7"/>
<rect x="535.85" y="480.15" width="6.30" height="6.30" fill="#ee3440" stroke="#c0262f" stroke-width="0.7"/>
<rect x="543.45" y="468.35" width="6.30" height="6.30" fill="#ee3440" stroke="#c0262f" stroke-width="0.7"/>
<rect x="557.05" y="458.05" width="6.30" height="6.30" fill="#ee3440" stroke="#c0262f" stroke-width="0.7"/>
<rect x="567.35" y="450.15" width="6.30" height="6.30" fill="#ee3440" stroke="#c0262f" stroke-width="0.7"/>
<text transform="translate(328.50 504.50) rotate(-90)" font-size="16.9" text-anchor="middle">Chromosome</text>
<text transform="translate(346.00 504.50) rotate(-90)" font-size="16.9" text-anchor="middle">coverage (%)</text>
<text x="480.00" y="592.50" font-size="16.9" text-anchor="middle">Chromosome length (Mb)</text>
<text transform="translate(11.3 23) scale(1.1 1)" font-size="18.6" font-weight="bold" style="stroke-width:0.55px">a</text>
<text transform="translate(313 23) scale(1.1 1)" font-size="18.6" font-weight="bold" style="stroke-width:0.55px">b</text>
<text transform="translate(11.3 224) scale(1.1 1)" font-size="18.6" font-weight="bold" style="stroke-width:0.55px">c</text>
<text transform="translate(312.4 223.7) scale(1.1 1)" font-size="18.6" font-weight="bold" style="stroke-width:0.55px">d</text>
<text transform="translate(11.3 429.2) scale(1.1 1)" font-size="18.6" font-weight="bold" style="stroke-width:0.55px">e</text>
<text transform="translate(312.4 428.7) scale(1.1 1)" font-size="18.6" font-weight="bold" style="stroke-width:0.55px">f</text>
</svg>
</body></html>
